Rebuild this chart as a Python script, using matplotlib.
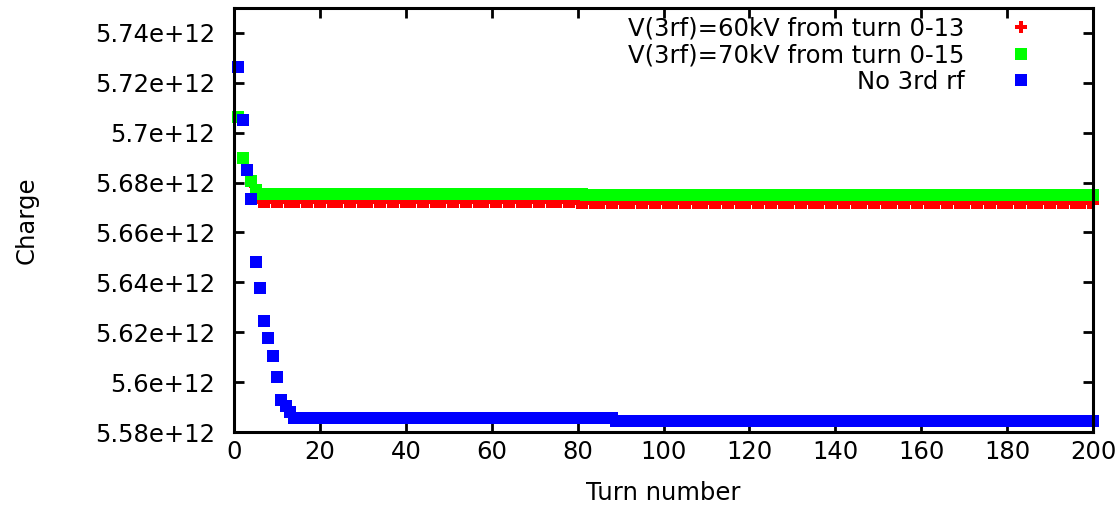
import matplotlib
matplotlib.use("Agg")
import matplotlib.pyplot as plt
import numpy as np
from matplotlib.ticker import FuncFormatter

# data (turns 1..200)
turns = np.arange(1, 201)

# V(3rf)=60kV from turn 0-13
red_early = [5.7063, 5.6895, 5.6840, 5.6802, 5.6750]
red_vals = red_early + [5.6721] * 74 + [5.6719] * 121

# V(3rf)=70kV from turn 0-15
green_early = [5.7065, 5.6898, 5.6850, 5.6806, 5.6770]
green_vals = green_early + [5.6754] * 76 + [5.6749] * 119

# No 3rd rf
blue_early = [5.7263, 5.7050, 5.6850, 5.6734, 5.6483, 5.6377, 5.6247,
              5.6177, 5.6105, 5.6022, 5.5928, 5.5904, 5.5880]
blue_vals = blue_early + [5.5856] * 75 + [5.5844] * 112

labels = ["V(3rf)=60kV from turn 0-13", "V(3rf)=70kV from turn 0-15", "No 3rd rf"]
xticks = list(range(0, 201, 20))
yticks = [5.58e12, 5.60e12, 5.62e12, 5.64e12, 5.66e12, 5.68e12, 5.70e12, 5.72e12, 5.74e12]

plt.rcParams['font.family'] = ['DejaVu Sans']
fs = 17.5

fig = plt.figure(figsize=(11.15, 5.07), dpi=100)
ax = fig.add_axes([0.2099, 0.1479, 0.7704, 0.8363])

ax.plot(turns, np.array(red_vals) * 1e12, linestyle='none', marker='P', ms=9,
        mew=0, color='#ff0000', clip_on=False, label=labels[0])
ax.plot(turns, np.array(green_vals) * 1e12, linestyle='none', marker='s', ms=9,
        mew=0, color='#00ff00', clip_on=False, label=labels[1])
ax.plot(turns, np.array(blue_vals) * 1e12, linestyle='none', marker='s', ms=9,
        mew=0, color='#0000ff', clip_on=False, label=labels[2])

ax.set_xlim(0, 200)
ax.set_ylim(5.58e12, 5.75e12)
ax.set_xticks(xticks)
ax.set_yticks(yticks)
ax.yaxis.set_major_formatter(FuncFormatter(lambda v, p: '%g' % v))

for s in ax.spines.values():
    s.set_linewidth(2.2)
ax.tick_params(direction='in', length=7, width=2, top=True, right=True,
               labelsize=fs)
ax.tick_params(axis='y', pad=13.5)
ax.tick_params(axis='x', pad=6)

ax.set_xlabel('Turn number', fontsize=fs)
ax.set_ylabel('Charge', fontsize=fs)
ax.xaxis.set_label_coords(0.5, -0.115)
ax.yaxis.set_label_coords(-0.227, 0.5)

leg = ax.legend(loc='upper right', bbox_to_anchor=(0.944, 0.979), fontsize=fs,
                markerfirst=False, frameon=False, borderpad=0, borderaxespad=0,
                handletextpad=1.3, labelspacing=0.1, handlelength=2.0)

fig.savefig('out.png', dpi=100)
